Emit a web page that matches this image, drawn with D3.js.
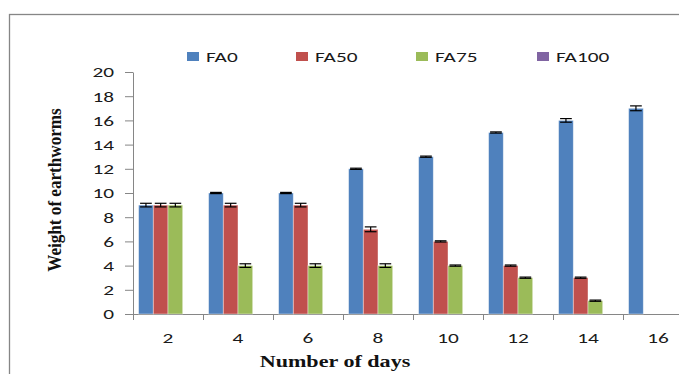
<!DOCTYPE html>
<html>
<head>
<meta charset="utf-8">
<script src="https://cdn.jsdelivr.net/npm/d3@7"></script>
<style>
  body { margin: 0; background: #fff; }
  svg { display: block; }
</style>
</head>
<body>
<div id="chart"></div>
<script>
// data
const days = ['2', '4', '6', '8', '10', '12', '14', '16']
const series = ['FA0', 'FA50', 'FA75', 'FA100']
const colors = ['#4F81BD', '#C0504D', '#9BBB59', '#8064A2']
const fa0 = [9, 10, 10, 12, 13, 15, 16, 17]
const fa50 = [9, 9, 9, 7, 6, 4, 3, null]
const fa75 = [9, 4, 4, 4, 4, 3, 1.1, null]
const fa100 = [null, null, null, null, null, null, null, null]
const err0 = [0.15, 0.05, 0.05, 0.05, 0.05, 0.05, 0.15, 0.2]
const err50 = [0.15, 0.15, 0.15, 0.2, 0.05, 0.05, 0.05, null]
const err75 = [0.15, 0.15, 0.15, 0.15, 0.05, 0.05, 0.05, null]
const yTicks = [0, 2, 4, 6, 8, 10, 12, 14, 16, 18, 20]

const values = [fa0, fa50, fa75, fa100]
const errors = [err0, err50, err75, [null, null, null, null, null, null, null, null]]

const width = 679, height = 374
const plot = { left: 133, right: 693, top: 72, bottom: 314 }
const sansFont = 'Carlito, Calibri, "Open Sans", sans-serif'
const serifFont = '"Liberation Serif", "Times New Roman", serif'
// the original picture is stretched sideways, so the text is too
const stretch = 'scale(1.42,1)'

const svg = d3.select('#chart').append('svg')
  .attr('width', width)
  .attr('height', height)

// outer frame
svg.append('rect')
  .attr('x', 9.5).attr('y', 14.5)
  .attr('width', 700).attr('height', 400)
  .attr('fill', 'none')
  .attr('stroke', '#868686')
  .attr('stroke-width', 1.3)

const x = d3.scaleBand()
  .domain(days)
  .range([plot.left, plot.right])
  .paddingInner(0)
  .paddingOuter(0)

const x1 = d3.scaleBand()
  .domain(series)
  .range([0, x.bandwidth()])
  .paddingOuter(0.38)
  .paddingInner(0)

const y = d3.scaleLinear()
  .domain([0, 20])
  .range([plot.bottom, plot.top])

// y axis
const yAxis = d3.axisLeft(y).tickValues(yTicks).tickSize(8).tickSizeOuter(0)
const gy = svg.append('g')
  .attr('transform', 'translate(' + plot.left + ',0)')
  .call(yAxis)
gy.select('.domain').attr('stroke', '#868686')
gy.selectAll('.tick line').attr('stroke', '#868686')
gy.selectAll('.tick text')
  .attr('font-family', sansFont)
  .attr('font-size', 15)
  .attr('fill', '#1a1a1a')
  .attr('x', -19 / 1.42)
  .attr('transform', stretch)

// x axis
const xAxis = d3.axisBottom(x).tickSize(0).tickSizeOuter(0)
const gx = svg.append('g')
  .attr('transform', 'translate(0,' + plot.bottom + ')')
  .call(xAxis)
gx.select('.domain').attr('stroke', '#868686')
gx.selectAll('.tick text')
  .attr('font-family', sansFont)
  .attr('font-size', 15)
  .attr('fill', '#1a1a1a')
  .attr('dy', null)
  .attr('y', 29)
  .attr('transform', stretch)

// category separators on the x axis
svg.append('g').selectAll('line')
  .data(days)
  .join('line')
  .attr('x1', d => x(d) + 0.5)
  .attr('x2', d => x(d) + 0.5)
  .attr('y1', plot.bottom)
  .attr('y2', plot.bottom + 6)
  .attr('stroke', '#868686')

// bars
const rows = []
days.forEach((d, i) => {
  series.forEach((s, j) => {
    if (values[j][i] != null) {
      rows.push({ day: d, s: s, v: values[j][i], e: errors[j][i], c: colors[j] })
    }
  })
})

svg.append('g').selectAll('rect')
  .data(rows)
  .join('rect')
  .attr('x', d => x(d.day) + x1(d.s))
  .attr('y', d => y(d.v))
  .attr('width', x1.bandwidth())
  .attr('height', d => y(0) - y(d.v))
  .attr('fill', d => d.c)
  .attr('stroke', 'rgba(255,255,255,0.5)')
  .attr('stroke-width', 0.8)

// error bars
const eb = svg.append('g').selectAll('g')
  .data(rows.filter(d => d.e != null))
  .join('g')
  .attr('stroke', '#000')
  .attr('stroke-width', 1.2)

eb.append('line')
  .attr('x1', d => x(d.day) + x1(d.s) + x1.bandwidth() / 2)
  .attr('x2', d => x(d.day) + x1(d.s) + x1.bandwidth() / 2)
  .attr('y1', d => y(d.v - d.e))
  .attr('y2', d => y(d.v + d.e))
eb.append('line')
  .attr('x1', d => x(d.day) + x1(d.s) + 1.5)
  .attr('x2', d => x(d.day) + x1(d.s) + x1.bandwidth() - 1.5)
  .attr('y1', d => y(d.v + d.e))
  .attr('y2', d => y(d.v + d.e))
eb.append('line')
  .attr('x1', d => x(d.day) + x1(d.s) + 1.5)
  .attr('x2', d => x(d.day) + x1(d.s) + x1.bandwidth() - 1.5)
  .attr('y1', d => y(d.v - d.e))
  .attr('y2', d => y(d.v - d.e))

// legend
const legendX = [187, 296, 416, 537]
const legend = svg.append('g').selectAll('g')
  .data(series)
  .join('g')
  .attr('transform', (d, i) => 'translate(' + legendX[i] + ',52)')
legend.append('rect')
  .attr('width', 12).attr('height', 9)
  .attr('fill', (d, i) => colors[i])
legend.append('text')
  .attr('transform', 'translate(19,9.5) ' + stretch)
  .attr('font-family', sansFont)
  .attr('font-size', 15)
  .attr('fill', '#1a1a1a')
  .text(d => d)

// axis titles
svg.append('text')
  .attr('transform', 'translate(335,367) scale(1.3,1)')
  .attr('text-anchor', 'middle')
  .attr('font-family', serifFont)
  .attr('font-weight', 'bold')
  .attr('font-size', 17)
  .attr('fill', '#111')
  .text('Number of days')

svg.append('text')
  .attr('transform', 'translate(61,190) rotate(-90) scale(1.07,1.15)')
  .attr('text-anchor', 'middle')
  .attr('font-family', serifFont)
  .attr('font-weight', 'bold')
  .attr('font-size', 16)
  .attr('fill', '#111')
  .text('Weight of earthworms')
</script>
</body>
</html>
